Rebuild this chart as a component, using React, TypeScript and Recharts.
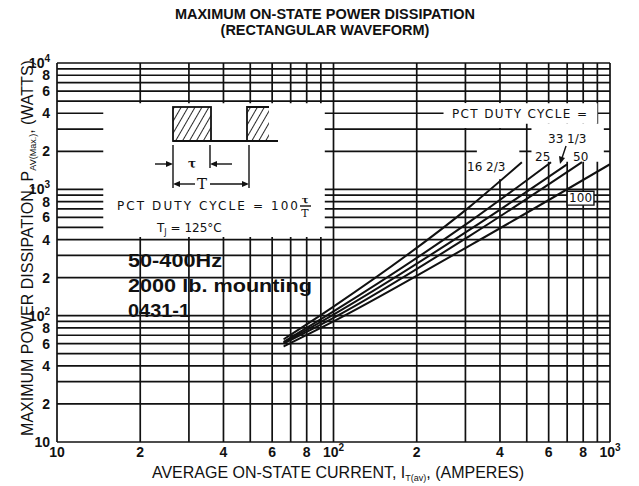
import React from "react";
import { LineChart, Line, XAxis, YAxis, CartesianGrid, ReferenceArea } from "recharts";

// log grid: one line for every 1..9 step of each decade
const currentTicks = [10, 20, 30, 40, 50, 60, 70, 80, 90, 100, 200, 300, 400, 500, 600, 700, 800, 900, 1000];
const currentTickLabels = ["10", "2", "", "4", "", "6", "", "8", "", "10^2", "2", "", "4", "", "6", "", "8", "", "10^3"];

const powerTicks = [
  10, 20, 30, 40, 50, 60, 70, 80, 90,
  100, 200, 300, 400, 500, 600, 700, 800, 900,
  1000, 2000, 3000, 4000, 5000, 6000, 7000, 8000, 9000, 10000,
];
const powerTickLabels = [
  "10", "2", "", "4", "", "6", "", "8", "",
  "10^2", "2", "", "4", "", "6", "", "8", "",
  "10^3", "2", "", "4", "", "6", "", "8", "", "10^4",
];

// i = average current (A), p = power (W)
const duty16 = [{ i: 66, p: 65 }, { i: 100, p: 118 }, { i: 312, p: 733 }, { i: 480, p: 1640 }];
const duty25 = [{ i: 66, p: 62 }, { i: 100, p: 108 }, { i: 312, p: 557 }, { i: 612, p: 1640 }];
const duty33 = [{ i: 66, p: 61 }, { i: 100, p: 102 }, { i: 312, p: 482 }, { i: 700, p: 1580 }];
const duty50 = [{ i: 66, p: 60 }, { i: 100, p: 96 }, { i: 312, p: 430 }, { i: 792, p: 1640 }];
const duty100 = [{ i: 66, p: 57 }, { i: 100, p: 90 }, { i: 312, p: 360 }, { i: 1000, p: 1580 }];

const dutySeries = [
  { name: "16 2/3", data: duty16 },
  { name: "25", data: duty25 },
  { name: "33 1/3", data: duty33 },
  { name: "50", data: duty50 },
  { name: "100", data: duty100 },
];

const INK = "#111";
const SANS = "'Liberation Sans', Arial, Helvetica, sans-serif";

const LogTick = (props: any) => {
  const { x, y, payload, axis } = props;
  const ticks = axis === "x" ? currentTicks : powerTicks;
  const labels = axis === "x" ? currentTickLabels : powerTickLabels;
  const label = labels[ticks.indexOf(payload.value)];
  if (!label) return null;
  const [base, exp] = label.split("^");
  return (
    <text
      x={x}
      y={y}
      dy={axis === "x" ? "0.71em" : "0.36em"}
      textAnchor={axis === "x" ? "middle" : "end"}
      fontFamily={SANS}
      fontWeight="bold"
      fontSize={14}
      fill={INK}
    >
      {base}
      {exp && (
        <tspan dy={-6} fontSize={10}>
          {exp}
        </tspan>
      )}
    </text>
  );
};

const Arrow = ({ x, y, dir }: { x: number; y: number; dir: 1 | -1 }) => (
  <polygon points={`${x},${y} ${x - dir * 7},${y - 3} ${x - dir * 7},${y + 3}`} fill={INK} />
);

const Overlay = () => (
  <svg
    width={639}
    height={486}
    style={{ position: "absolute", left: 0, top: 0, pointerEvents: "none" }}
    fontFamily={SANS}
    fill={INK}
  >
    <defs>
      <pattern id="hatch" width="6" height="6" patternUnits="userSpaceOnUse" patternTransform="rotate(30)">
        <line x1="0" y1="0" x2="0" y2="6" stroke={INK} strokeWidth="1.8" />
      </pattern>
    </defs>

    {/* title */}
    <text x={325} y={19} textAnchor="middle" fontWeight="bold" fontSize={14.5}>
      MAXIMUM ON-STATE POWER DISSIPATION
    </text>
    <text x={325} y={35} textAnchor="middle" fontWeight="bold" fontSize={14.5}>
      (RECTANGULAR WAVEFORM)
    </text>

    {/* axis titles */}
    <text transform="translate(33,248) rotate(-90)" textAnchor="middle" fontSize={16}>
      MAXIMUM POWER DISSIPATION, P
      <tspan fontSize={9} dy={3}>AV(Max.)</tspan>
      <tspan dy={-3}>, (WATTS)</tspan>
    </text>
    <text x={338} y={478} textAnchor="middle" fontSize={16}>
      AVERAGE ON-STATE CURRENT, I
      <tspan fontSize={9} dy={3}>T(av)</tspan>
      <tspan dy={-3}>, (AMPERES)</tspan>
    </text>

    {/* waveform inset */}
    <rect x={173} y={107} width={38} height={34} fill="url(#hatch)" stroke={INK} strokeWidth={1.8} />
    <rect x={247} y={107} width={22} height={34} fill="url(#hatch)" stroke="none" />
    <path d="M247,141 V107 H269" fill="none" stroke={INK} strokeWidth={1.8} />
    <line x1={173} y1={141} x2={278} y2={141} stroke={INK} strokeWidth={1.8} />
    <line x1={173} y1={145} x2={173} y2={188} stroke={INK} strokeWidth={1.4} />
    <line x1={210} y1={145} x2={210} y2={168} stroke={INK} strokeWidth={1.4} />
    <line x1={249} y1={145} x2={249} y2={188} stroke={INK} strokeWidth={1.4} />
    <line x1={155} y1={164} x2={168} y2={164} stroke={INK} strokeWidth={1.4} />
    <Arrow x={173} y={164} dir={1} />
    <line x1={232} y1={164} x2={216} y2={164} stroke={INK} strokeWidth={1.4} />
    <Arrow x={210} y={164} dir={-1} />
    <text x={192} y={168} textAnchor="middle" fontWeight="bold" fontSize={12} fontFamily="'DejaVu Serif', serif">τ</text>
    <line x1={195} y1={184} x2={178} y2={184} stroke={INK} strokeWidth={1.4} />
    <Arrow x={173} y={184} dir={-1} />
    <line x1={210} y1={184} x2={244} y2={184} stroke={INK} strokeWidth={1.4} />
    <Arrow x={249} y={184} dir={1} />
    <text x={202} y={189} textAnchor="middle" fontSize={15} fontFamily="'DejaVu Serif', serif">T</text>

    <text x={117} y={210} fontSize={12} fontFamily="'DejaVu Sans', sans-serif" textLength={181} lengthAdjust="spacing">
      PCT DUTY CYCLE = 100
    </text>
    <text x={305} y={203} textAnchor="middle" fontSize={10} fontWeight="bold" fontFamily="'DejaVu Serif', serif">τ</text>
    <line x1={300} y1={206} x2={311} y2={206} stroke={INK} strokeWidth={1.4} />
    <text x={305} y={217} textAnchor="middle" fontSize={11} fontFamily="'DejaVu Serif', serif">T</text>
    <text x={157} y={232} fontSize={12} fontFamily="'DejaVu Sans', sans-serif">
      T<tspan fontSize={8} dy={3}>J</tspan>
      <tspan dy={-3}> = 125°C</tspan>
    </text>

    {/* curve labels */}
    <text x={452} y={118} fontSize={12} fontFamily="'DejaVu Sans', sans-serif" textLength={135} lengthAdjust="spacing">
      PCT DUTY CYCLE =
    </text>
    <text x={548} y={143} fontSize={12} fontFamily="'DejaVu Sans', sans-serif">33 1/3</text>
    <text x={535} y={161} fontSize={12} fontFamily="'DejaVu Sans', sans-serif">25</text>
    <text x={573} y={161} fontSize={12} fontFamily="'DejaVu Sans', sans-serif">50</text>
    <line x1={566} y1={146} x2={562} y2={158} stroke={INK} strokeWidth={1.4} />
    <polygon points="560,164 559,156 565,158" fill={INK} />
    <text x={467} y={171} fontSize={12} fontFamily="'DejaVu Sans', sans-serif">16 2/3</text>

    {/* stamped notes */}
    <text x={128} y={267} fontWeight="bold" fontSize={18} textLength={94} lengthAdjust="spacingAndGlyphs">50-400Hz</text>
    <text x={128} y={292} fontWeight="bold" fontSize={18} textLength={184} lengthAdjust="spacingAndGlyphs">2000 lb. mounting</text>
    <text x={128} y={317} fontWeight="bold" fontSize={18} textLength={62} lengthAdjust="spacingAndGlyphs">0431-1</text>
  </svg>
);

export default function App() {
  return (
    <div style={{ position: "absolute", left: 0, top: 0, width: 639, height: 486, background: "#fff" }}>
      <LineChart width={639} height={486} margin={{ top: 63, right: 29, bottom: 14, left: 7 }}>
        <CartesianGrid stroke={INK} strokeWidth={1.7} />
        <XAxis
          dataKey="i"
          type="number"
          scale="log"
          domain={[10, 1000]}
          ticks={currentTicks}
          allowDataOverflow
          height={30}
          axisLine={false}
          tickLine={false}
          tickSize={0}
          tickMargin={5}
          interval={0}
          tick={<LogTick axis="x" />}
        />
        <YAxis
          type="number"
          scale="log"
          domain={[10, 10000]}
          ticks={powerTicks}
          allowDataOverflow
          width={50}
          axisLine={false}
          tickLine={false}
          tickSize={0}
          tickMargin={7}
          interval={0}
          tick={<LogTick axis="y" />}
        />
        {/* white label panels cut through the grid */}
        <ReferenceArea x1={14.7} x2={93} y1={420} y2={4800} fill="#fff" fillOpacity={1} stroke="none" />
        <ReferenceArea x1={250} x2={900} y1={3300} y2={4800} fill="#fff" fillOpacity={1} stroke="none" />
        <ReferenceArea x1={280} x2={480} y1={3060} y2={4800} fill="#fff" fillOpacity={1} stroke="none" />
        <ReferenceArea x1={330} x2={470} y1={1200} y2={2950} fill="#fff" fillOpacity={1} stroke="none" />
        <ReferenceArea x1={520} x2={950} y1={1650} y2={3300} fill="#fff" fillOpacity={1} stroke="none" />
        <ReferenceArea
          x1={700}
          x2={875}
          y1={750}
          y2={965}
          fill="#fff"
          fillOpacity={1}
          stroke={INK}
          strokeWidth={1.4}
          label={{ value: "100", fill: INK, fontSize: 12, fontFamily: "'DejaVu Sans', sans-serif" }}
        />
        {dutySeries.map((s) => (
          <Line
            key={s.name}
            name={s.name}
            data={s.data}
            dataKey="p"
            type="monotone"
            stroke={INK}
            strokeWidth={2}
            dot={false}
            isAnimationActive={false}
          />
        ))}
      </LineChart>
      <Overlay />
    </div>
  );
}
